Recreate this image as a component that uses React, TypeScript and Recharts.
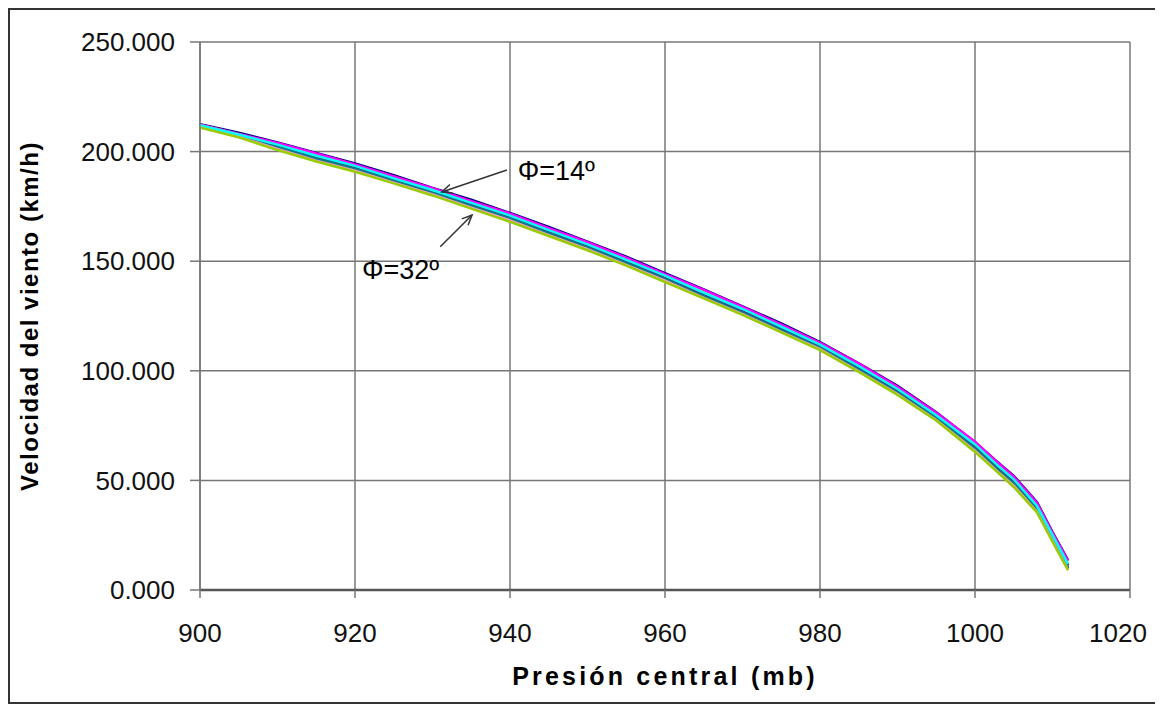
import React from 'react';
import { LineChart, Line, XAxis, YAxis, CartesianGrid, ReferenceLine, ReferenceDot } from 'recharts';

const pressures = [900, 905, 910, 915, 920, 925, 930, 935, 940, 945, 950, 955, 960, 965, 970, 975, 980, 985, 990, 995, 1000, 1003, 1005, 1008, 1010, 1012];

const phi14 = [212.5, 208.6, 204.2, 199.4, 194.6, 189.2, 183.4, 178.1, 172.0, 165.6, 158.9, 152.1, 144.6, 137.1, 129.4, 121.6, 113.1, 103.4, 93.1, 81.1, 67.4, 58.1, 52.1, 40.1, 26.4, 13.6];
const phi16 = [212.3, 208.1, 203.9, 199.1, 194.1, 188.7, 183.3, 177.4, 171.7, 165.1, 158.7, 151.6, 144.1, 136.9, 129.1, 121.1, 112.7, 103.3, 92.7, 80.9, 67.7, 57.9, 51.7, 39.7, 26.1, 13.3];
const phi18 = [212.2, 207.9, 203.4, 198.7, 193.7, 188.4, 182.6, 177.2, 171.1, 164.8, 158.0, 151.2, 143.6, 136.3, 128.5, 120.8, 112.4, 102.6, 92.2, 80.2, 67.0, 57.1, 51.1, 38.9, 25.6, 12.5];
const phi20 = [212.0, 207.8, 203.2, 198.1, 193.5, 187.8, 182.5, 176.6, 170.8, 164.2, 157.7, 150.6, 143.4, 135.6, 128.2, 120.1, 111.9, 102.1, 91.7, 79.7, 66.4, 56.5, 50.5, 38.3, 25.1, 11.9];
const phi22 = [211.9, 207.5, 202.8, 197.7, 192.8, 187.6, 181.9, 176.3, 170.1, 163.9, 157.1, 150.3, 142.7, 135.3, 127.5, 119.8, 111.3, 101.8, 91.0, 79.4, 65.7, 56.1, 49.7, 37.9, 24.3, 11.6];
const phi24 = [211.7, 207.4, 202.2, 197.5, 192.4, 187.2, 181.5, 175.9, 169.7, 163.4, 156.6, 149.8, 142.2, 134.8, 127.0, 119.3, 110.8, 101.3, 90.5, 78.9, 65.1, 55.6, 49.1, 37.3, 23.7, 11.1];
const phi26 = [211.6, 207.1, 202.0, 196.9, 192.2, 186.6, 181.3, 175.3, 169.5, 162.8, 156.3, 149.2, 141.9, 134.1, 126.7, 118.6, 110.6, 100.6, 90.2, 78.3, 64.7, 54.8, 48.7, 36.6, 23.4, 10.3];
const phi28 = [211.4, 207.0, 201.4, 196.6, 191.5, 186.4, 180.7, 175.0, 168.8, 162.5, 155.7, 148.9, 141.3, 133.9, 126.1, 118.4, 110.0, 100.4, 89.5, 78.1, 63.9, 54.4, 47.9, 36.3, 22.7, 9.9];
const phi30 = [211.2, 206.7, 201.2, 195.9, 191.3, 185.8, 180.5, 174.4, 168.6, 161.9, 155.5, 148.3, 141.1, 133.3, 125.9, 117.8, 109.9, 99.8, 89.4, 77.6, 63.6, 53.8, 47.6, 35.7, 22.5, 9.3];
const phi32 = [211.0, 206.5, 200.7, 195.5, 190.8, 185.5, 180.0, 174.0, 168.0, 161.5, 155.0, 148.0, 140.5, 133.0, 125.5, 117.5, 109.4, 99.5, 89.0, 77.3, 63.0, 53.4, 47.0, 35.4, 22.0, 9.0];

const xTicks = [900, 920, 940, 960, 980, 1000, 1020];
const yTicks = [0, 50, 100, 150, 200, 250];

const seriesDefs = [
  { key: 'phi14', values: phi14, color: '#000080' },
  { key: 'phi24', values: phi24, color: '#800000' },
  { key: 'phi22', values: phi22, color: '#800080' },
  { key: 'phi28', values: phi28, color: '#0000FF' },
  { key: 'phi26', values: phi26, color: '#008080' },
  { key: 'phi30', values: phi30, color: '#FF99CC' },
  { key: 'phi18', values: phi18, color: '#FFFF00' },
  { key: 'phi16', values: phi16, color: '#FF00FF' },
  { key: 'phi20', values: phi20, color: '#00FFFF' },
  { key: 'phi32', values: phi32, color: '#99CC00' },
];

const data = pressures.map((p, i) => {
  const row: Record<string, number> = { p };
  seriesDefs.forEach((s) => { row[s.key] = s.values[i]; });
  return row;
});

const FONT = '"Liberation Sans", Arial, Helvetica, sans-serif';

const XTitle = (props: any) => {
  const { x, y, width } = props.viewBox;
  return (
    <text x={x + width / 2} y={y + 86} textAnchor="middle" dominantBaseline="central"
      fontFamily={FONT} fontWeight="bold" fontSize={25} letterSpacing={3.2} fill="#000">
      Presión central (mb)
    </text>
  );
};

const YTitle = (props: any) => {
  const { x, y, height } = props.viewBox;
  const cx = x + 9;
  const cy = y + height / 2;
  return (
    <text x={cx} y={cy} transform={`rotate(-90 ${cx} ${cy})`} textAnchor="middle" dominantBaseline="central"
      fontFamily={FONT} fontWeight="bold" fontSize={24} letterSpacing={1.5} fill="#000">
      Velocidad del viento (km/h)
    </text>
  );
};

const XTick = (props: any) => {
  const { x, y, payload } = props;
  const last = payload.value === xTicks[xTicks.length - 1];
  return (
    <text x={last ? x - 12 : x} y={y} dy="0.71em" textAnchor="middle" fontFamily={FONT} fontSize={26} fill="#111">
      {payload.value}
    </text>
  );
};

const Arrow = (props: any) => {
  const { x1, y1, x2, y2 } = props;
  const ang = Math.atan2(y2 - y1, x2 - x1);
  const L = 11;
  const sp = 0.42;
  const ax = x2 - L * Math.cos(ang - sp);
  const ay = y2 - L * Math.sin(ang - sp);
  const bx = x2 - L * Math.cos(ang + sp);
  const by = y2 - L * Math.sin(ang + sp);
  return (
    <g stroke="#333" strokeWidth={1.5} fill="none">
      <line x1={x1} y1={y1} x2={x2} y2={y2} />
      <polyline points={`${ax},${ay} ${x2},${y2} ${bx},${by}`} />
    </g>
  );
};

const makeText = (txt: string) => (p: any) => (
  <text x={p.cx} y={p.cy} textAnchor="start" dominantBaseline="central" fontFamily={FONT} fontSize={27} fill="#000">
    {txt}
  </text>
);

export default function App() {
  return (
    <div style={{ width: 1152, height: 696, border: '2px solid #333', boxSizing: 'border-box', background: '#fff' }}>
      <LineChart width={1148} height={692} data={data} margin={{ top: 32, right: 28, left: 10, bottom: 12 }}>
        <CartesianGrid stroke="#777" strokeWidth={1.5} />
        <XAxis
          dataKey="p"
          type="number"
          domain={[900, 1020]}
          ticks={xTicks}
          height={100}
          tickSize={8}
          tickMargin={26}
          axisLine={{ stroke: '#555', strokeWidth: 2.5 }}
          tickLine={{ stroke: '#777', strokeWidth: 1.5 }}
          tick={<XTick />}
          label={<XTitle />}
        />
        <YAxis
          type="number"
          domain={[0, 250]}
          ticks={yTicks}
          width={180}
          tickSize={10}
          tickMargin={15}
          axisLine={{ stroke: '#777', strokeWidth: 1.5 }}
          tickLine={{ stroke: '#777', strokeWidth: 1.5 }}
          tick={{ fill: '#111', fontSize: 26, fontFamily: FONT }}
          tickFormatter={(v: number) => v.toFixed(3)}
          label={<YTitle />}
        />
        {seriesDefs.map((s) => (
          <Line key={s.key} dataKey={s.key} stroke={s.color} strokeWidth={2.5} dot={false} type="linear" isAnimationActive={false} />
        ))}
        <ReferenceLine segment={[{ x: 939.6, y: 191.6 }, { x: 931.2, y: 181.6 }]} shape={Arrow} />
        <ReferenceLine segment={[{ x: 931.0, y: 156.6 }, { x: 935.1, y: 171.1 }]} shape={Arrow} />
        <ReferenceDot x={941} y={191} r={0} shape={makeText('Φ=14º')} />
        <ReferenceDot x={920.9} y={146} r={0} shape={makeText('Φ=32º')} />
      </LineChart>
    </div>
  );
}
